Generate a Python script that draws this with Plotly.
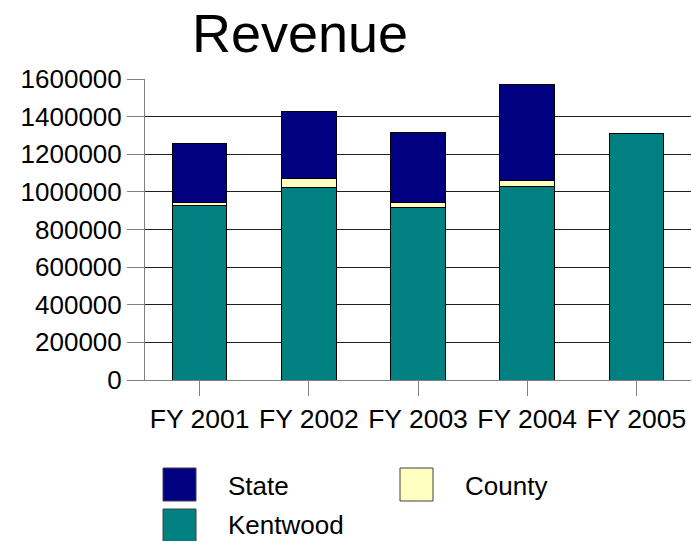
import plotly.graph_objects as go

categories = ["FY 2001", "FY 2002", "FY 2003", "FY 2004", "FY 2005"]
kentwood = [926000, 1025000, 917000, 1029000, 1311000]
county = [18000, 45000, 27000, 30000, 0]
state = [314000, 358000, 372000, 513000, 0]
y_ticks = [0, 200000, 400000, 600000, 800000, 1000000, 1200000, 1400000, 1600000]

series = [
    ("Kentwood", kentwood, "#008080"),
    ("County", county, "#FFFFC0"),
    ("State", state, "#000080"),
]

FONT = "Liberation Sans, Arial, sans-serif"
W, H = 692, 541
# plot area in window pixels
PX0, PX1, PY0, PY1 = 145, 691, 79, 380
L, R = PX0, W - PX1
T, B = PY0, H - PY1
pw, ph = PX1 - PX0, PY1 - PY0

fig = go.Figure()
for name, vals, col in series:
    fig.add_trace(go.Bar(
        x=categories, y=vals, name=name,
        marker=dict(color=col, line=dict(color="black", width=1)),
        width=0.5, showlegend=False,
    ))

def px2x(px):
    return (px - PX0) / pw
def py2y(py):
    return (PY1 - py) / ph

# manual legend (large swatches), positions in window pixels
legend_items = [("State", "#000080", 163, 468, 229, 486),
                ("County", "#FFFFC0", 400, 468, 466, 486),
                ("Kentwood", "#008080", 163, 509, 229, 525)]
shapes = []
annotations = []
for name, col, sx, sy, tx, ty in legend_items:
    shapes.append(dict(type="rect", xref="paper", yref="paper",
                       x0=px2x(sx), x1=px2x(sx + 33), y0=py2y(sy + 33), y1=py2y(sy),
                       fillcolor=col, line=dict(color="#404040", width=1)))
    annotations.append(dict(xref="paper", yref="paper", x=px2x(tx - 2), y=py2y(ty),
                            text=name, showarrow=False, xanchor="left", yanchor="middle",
                            borderpad=0,
                            font=dict(family=FONT, size=26, color="black")))

fig.update_layout(
    barmode="stack",
    width=W, height=H,
    margin=dict(l=L, r=R, t=T, b=B, pad=0),
    paper_bgcolor="white", plot_bgcolor="white",
    title=dict(text="Revenue", x=300 / W, xanchor="center", xref="container",
               y=1 - 33 / H, yanchor="middle", yref="container",
               font=dict(family=FONT, size=54, color="black")),
    font=dict(family=FONT, size=26, color="black"),
    shapes=shapes, annotations=annotations,
)
fig.update_yaxes(range=[0, 1600000], tickvals=y_ticks, ticktext=[str(v) for v in y_ticks],
                 showgrid=True, gridcolor="#202020", gridwidth=1,
                 showline=True, linecolor="#808080", linewidth=1,
                 ticks="outside", ticklen=17, tickcolor="#808080",
                 zeroline=False, tickfont=dict(family=FONT, size=26))
fig.update_xaxes(showline=True, linecolor="#808080", linewidth=1,
                 ticks="outside", ticklen=15, tickcolor="#808080",
                 showgrid=False, tickfont=dict(family=FONT, size=26.5))

fig.write_html("out.html", config={"displayModeBar": False},
               post_script="document.body.style.margin='0';document.body.style.overflow='hidden';")
